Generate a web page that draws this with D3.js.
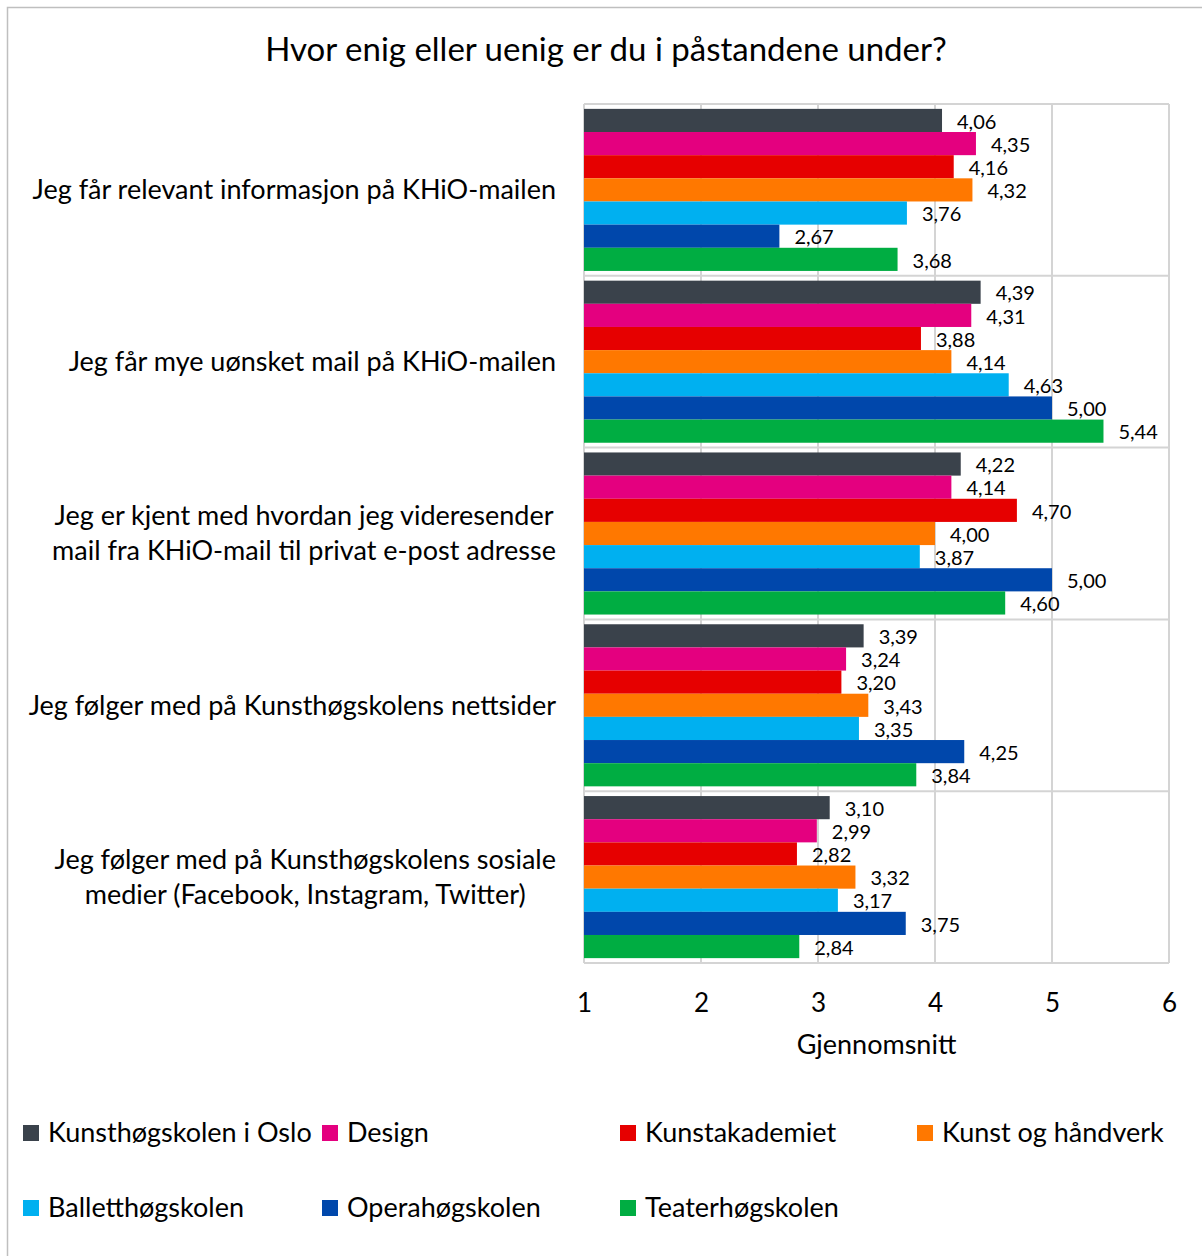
<!DOCTYPE html>
<html>
<head>
<meta charset="utf-8">
<script src="https://cdn.jsdelivr.net/npm/d3@7"></script>
<style>
html,body{margin:0;padding:0;background:#fff;}
svg{display:block;font-family:Lato,"Open Sans",sans-serif;}
</style>
</head>
<body>
<svg id="chart" width="1202" height="1256"></svg>
<script>
const title = "Hvor enig eller uenig er du i påstandene under?";
const categories = [
  ["Jeg får relevant informasjon på KHiO-mailen"],
  ["Jeg får mye uønsket mail på KHiO-mailen"],
  ["Jeg er kjent med hvordan jeg videresender", "mail fra KHiO-mail til privat e-post adresse"],
  ["Jeg følger med på Kunsthøgskolens nettsider"],
  ["Jeg følger med på Kunsthøgskolens sosiale", "medier (Facebook, Instagram, Twitter)"]
];
const seriesNames = ["Kunsthøgskolen i Oslo", "Design", "Kunstakademiet", "Kunst og håndverk", "Balletthøgskolen", "Operahøgskolen", "Teaterhøgskolen"];
const seriesColors = ["#3A424B", "#E4007F", "#E60000", "#FF7800", "#00B0F0", "#0047AB", "#00AD42"];
const kunsthogskolen = [4.06, 4.39, 4.22, 3.39, 3.10];
const design = [4.35, 4.31, 4.14, 3.24, 2.99];
const kunstakademiet = [4.16, 3.88, 4.70, 3.20, 2.82];
const kunstOgHandverk = [4.32, 4.14, 4.00, 3.43, 3.32];
const ballett = [3.76, 4.63, 3.87, 3.35, 3.17];
const opera = [2.67, 5.00, 5.00, 4.25, 3.75];
const teater = [3.68, 5.44, 4.60, 3.84, 2.84];
const seriesValues = [kunsthogskolen, design, kunstakademiet, kunstOgHandverk, ballett, opera, teater];
const xTicks = [1, 2, 3, 4, 5, 6];
const xTitle = "Gjennomsnitt";

const svg = d3.select("#chart");
const pLeft = 584, pRight = 1169, pTop = 104, pBottom = 963;
const gridColor = "#D4D4D4";

// outer border
svg.append("rect").attr("x", 7.5).attr("y", 7.5).attr("width", 1300).attr("height", 1300)
  .attr("fill", "none").attr("stroke", "#BFBFBF").attr("stroke-width", 1.5);

svg.append("text").attr("x", 606).attr("y", 61).attr("text-anchor", "middle")
  .attr("font-size", 33).attr("fill", "#000").text(title);

const x = d3.scaleLinear().domain([1, 6]).range([pLeft, pRight]);
const y = d3.scaleBand().domain(d3.range(categories.length)).range([pTop, pBottom]).padding(0);
const yi = d3.scaleBand().domain(d3.range(seriesNames.length)).range([0, y.bandwidth()]).paddingInner(0).paddingOuter(0.21);

// grid verticals
svg.append("g").selectAll("line").data(xTicks.slice(1)).join("line")
  .attr("x1", d => x(d)).attr("x2", d => x(d)).attr("y1", pTop).attr("y2", pBottom)
  .attr("stroke", gridColor).attr("stroke-width", 2);
// horizontal separators
const hs = d3.range(categories.length + 1).map(i => i < categories.length ? y(i) : pBottom);
svg.append("g").selectAll("line").data(hs).join("line")
  .attr("x1", pLeft).attr("x2", pRight).attr("y1", d => d).attr("y2", d => d)
  .attr("stroke", gridColor).attr("stroke-width", 2);
// left axis line
svg.append("line").attr("x1", pLeft).attr("x2", pLeft).attr("y1", pTop).attr("y2", pBottom)
  .attr("stroke", gridColor).attr("stroke-width", 2);

const fmt = v => d3.format(".2f")(v).replace(".", ",");

const rows = [];
categories.forEach((c, ci) => seriesNames.forEach((s, si) => rows.push({ci, si, v: seriesValues[si][ci]})));

svg.append("g").selectAll("rect").data(rows).join("rect")
  .attr("x", x(1)).attr("y", d => y(d.ci) + yi(d.si))
  .attr("width", d => x(d.v) - x(1)).attr("height", yi.bandwidth())
  .attr("fill", d => seriesColors[d.si]);

svg.append("g").selectAll("text").data(rows).join("text")
  .attr("x", d => x(d.v) + 15).attr("y", d => y(d.ci) + yi(d.si) + yi.bandwidth() / 2 + 1)
  .attr("dy", "0.36em").attr("font-size", 20).attr("fill", "#000")
  .text(d => fmt(d.v));

// category labels
categories.forEach((lines, ci) => {
  const g = svg.append("g");
  const cy = y(ci) + y.bandwidth() / 2;
  const lh = 35;
  const texts = lines.map((l, li) => g.append("text")
    .attr("y", cy + (li - (lines.length - 1) / 2) * lh).attr("dy", "0.35em")
    .attr("font-size", 27).attr("fill", "#000").attr("text-anchor", "middle").text(l));
  const maxW = d3.max(texts, t => t.node().getComputedTextLength());
  texts.forEach(t => t.attr("x", 556 - maxW / 2));
});

// x axis
const xAxis = svg.append("g").attr("transform", `translate(0,${pBottom})`)
  .call(d3.axisBottom(x).tickValues(xTicks).tickSize(0).tickPadding(0).tickFormat(d3.format("d")));
xAxis.select(".domain").remove();
xAxis.selectAll("text").attr("font-size", 26).attr("font-family", "Lato,'Open Sans',sans-serif")
  .attr("fill", "#000").attr("y", 40).attr("dy", "0.35em");

svg.append("text").attr("x", (pLeft + pRight) / 2).attr("y", 1045).attr("dy", "0.35em")
  .attr("text-anchor", "middle").attr("font-size", 27).attr("fill", "#000").text(xTitle);

// legend
const legPos = [[23, 1133], [322, 1133], [620, 1133], [917, 1133], [23, 1208], [322, 1208], [620, 1208]];
const lg = svg.append("g").selectAll("g").data(seriesNames).join("g")
  .attr("transform", (d, i) => `translate(${legPos[i][0]},${legPos[i][1]})`);
lg.append("rect").attr("x", 0).attr("y", -8).attr("width", 16).attr("height", 16)
  .attr("fill", (d, i) => seriesColors[i]);
lg.append("text").attr("x", 25).attr("dy", "0.35em").attr("font-size", 27).attr("fill", "#000").text(d => d);
</script>
</body>
</html>
